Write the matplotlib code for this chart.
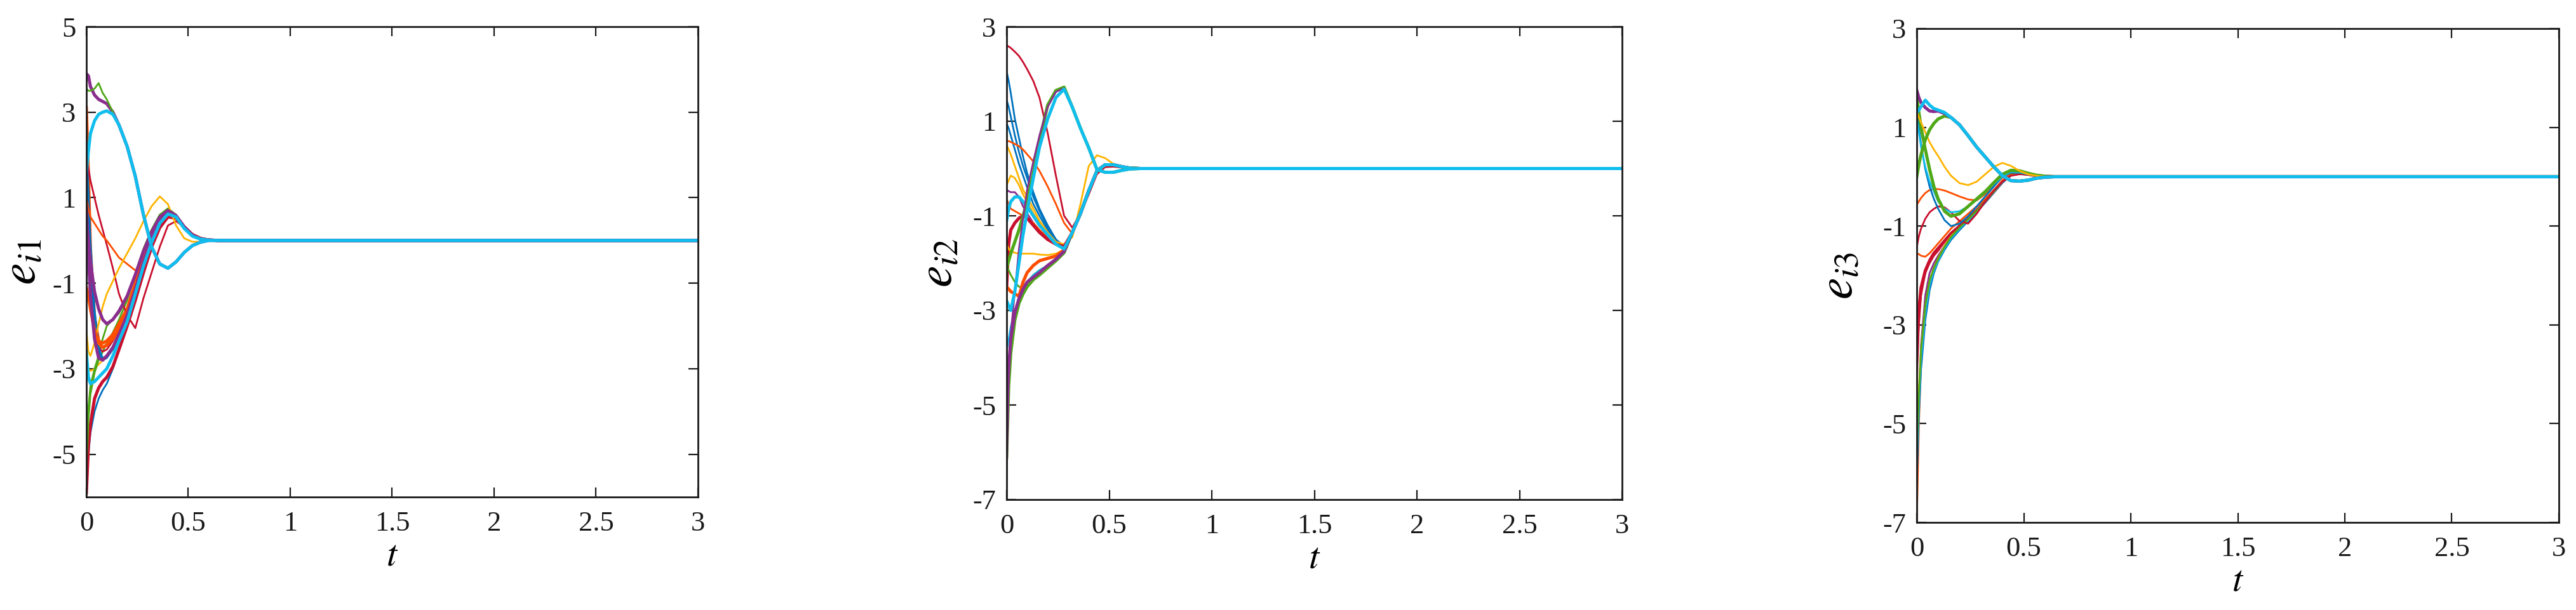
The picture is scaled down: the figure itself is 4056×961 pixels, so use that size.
import matplotlib
matplotlib.use("Agg")
import matplotlib.pyplot as plt

plt.rcParams['font.family'] = ['Liberation Serif', 'DejaVu Serif']
plt.rcParams['mathtext.fontset'] = 'stix'
plt.rcParams['axes.unicode_minus'] = False

# ---------------- data ----------------
t_grid = [0, 0.01, 0.02, 0.04, 0.06, 0.08, 0.1, 0.13, 0.16, 0.2, 0.24, 0.28,
          0.32, 0.36, 0.4, 0.44, 0.48, 0.52, 0.56, 0.6, 0.65, 3.0]

x_ticks = [0, 0.5, 1, 1.5, 2, 2.5, 3]
x_tick_labels = ['0', '0.5', '1', '1.5', '2', '2.5', '3']
y_ticks_1 = [5, 3, 1, -1, -3, -5]
y_ticks_23 = [3, 1, -1, -3, -5, -7]
y_labels = [r'$e_{i1}$', r'$e_{i2}$', r'$e_{i3}$']

# panel 1 : e_i1
e1_yellow_b = [-3.0, -3.0, -3.05, -3.0, -2.9, -2.8, -2.7, -2.55, -2.3, -1.9, -1.3, -0.65, -0.1, 0.35, 0.6, 0.55, 0.3, 0.12, 0.04, 0.01, 0.0, 0.0]
e1_blue_c = [-5.5, -5.0, -4.5, -4.0, -3.7, -3.5, -3.35, -3.0, -2.55, -2.0, -1.35, -0.7, -0.1, 0.35, 0.58, 0.55, 0.3, 0.12, 0.04, 0.01, 0.0, 0.0]
e1_crimson_c = [-5.9, -4.8, -4.3, -3.7, -3.45, -3.3, -3.2, -2.95, -2.55, -2.0, -1.4, -0.75, -0.15, 0.3, 0.55, 0.52, 0.3, 0.12, 0.04, 0.01, 0.0, 0.0]
e1_green_b = [-5.3, -4.2, -3.6, -3.1, -2.8, -2.6, -2.4, -2.15, -1.85, -1.4, -0.8, -0.2, 0.25, 0.6, 0.75, 0.6, 0.32, 0.13, 0.04, 0.01, 0.0, 0.0]
e1_green_c = [-4.6, -3.9, -3.4, -3.0, -2.7, -2.3, -2.0, -1.85, -1.7, -1.35, -0.78, -0.2, 0.25, 0.6, 0.74, 0.6, 0.32, 0.13, 0.04, 0.01, 0.0, 0.0]
e1_orange_a = [3.1, 1.5, -0.2, -1.8, -2.35, -2.4, -2.35, -2.2, -1.95, -1.6, -1.0, -0.4, 0.1, 0.45, 0.65, 0.55, 0.32, 0.14, 0.05, 0.01, 0.0, 0.0]
e1_crimson_a = [2.5, 1.0, -0.5, -2.0, -2.5, -2.6, -2.55, -2.35, -2.1, -1.7, -1.1, -0.5, 0.0, 0.4, 0.6, 0.53, 0.3, 0.13, 0.04, 0.01, 0.0, 0.0]
e1_blue_a = [2.1, 1.2, 0.0, -1.6, -2.5, -2.75, -2.7, -2.5, -2.25, -1.8, -1.2, -0.55, 0.0, 0.4, 0.62, 0.55, 0.3, 0.12, 0.04, 0.01, 0.0, 0.0]
e1_blue_b = [1.5, 0.6, -0.4, -1.9, -2.6, -2.8, -2.75, -2.55, -2.3, -1.85, -1.25, -0.6, -0.05, 0.38, 0.6, 0.55, 0.3, 0.12, 0.04, 0.01, 0.0, 0.0]
e1_crimson_b = [1.9, 1.7, 1.4, 1.0, 0.6, 0.25, -0.1, -0.65, -1.25, -1.75, -2.05, -1.35, -0.75, -0.15, 0.35, 0.45, 0.32, 0.15, 0.06, 0.02, 0.0, 0.0]
e1_orange_b = [1.0, 0.75, 0.55, 0.4, 0.25, 0.1, 0.0, -0.2, -0.4, -0.55, -0.7, -0.5, -0.05, 0.4, 0.62, 0.52, 0.3, 0.13, 0.04, 0.01, 0.0, 0.0]
e1_yellow_a = [-2.1, -2.6, -2.7, -2.4, -1.95, -1.55, -1.25, -0.95, -0.65, -0.3, 0.05, 0.45, 0.8, 1.03, 0.85, 0.35, 0.05, -0.03, -0.03, -0.01, 0.0, 0.0]
e1_orange_c = [-1.1, -1.3, -1.6, -2.1, -2.4, -2.5, -2.45, -2.3, -2.05, -1.65, -1.05, -0.45, 0.05, 0.42, 0.62, 0.55, 0.3, 0.13, 0.04, 0.01, 0.0, 0.0]
e1_purple_b = [0.8, -0.4, -1.3, -2.3, -2.75, -2.8, -2.7, -2.5, -2.2, -1.75, -1.15, -0.5, 0.05, 0.45, 0.65, 0.55, 0.3, 0.13, 0.04, 0.01, 0.0, 0.0]
e1_purple_c = [0.5, 0.0, -0.5, -1.2, -1.6, -1.85, -1.95, -1.85, -1.65, -1.3, -0.8, -0.25, 0.2, 0.55, 0.7, 0.58, 0.32, 0.13, 0.04, 0.01, 0.0, 0.0]
e1_cyan_b = [-2.6, -3.2, -3.35, -3.3, -3.2, -3.1, -3.0, -2.7, -2.35, -1.9, -1.25, -0.6, -0.05, 0.4, 0.62, 0.55, 0.28, 0.1, 0.03, 0.01, 0.0, 0.0]
e1_purple_up = [3.9, 3.85, 3.6, 3.4, 3.3, 3.25, 3.2, 3.0, 2.7, 2.2, 1.5, 0.6, -0.15, -0.55, -0.65, -0.5, -0.28, -0.12, -0.04, 0.0, 0.0, 0.0]
e1_green_up = [3.55, 3.5, 3.5, 3.55, 3.68, 3.45, 3.3, 3.0, 2.7, 2.2, 1.5, 0.6, -0.15, -0.55, -0.65, -0.5, -0.28, -0.12, -0.04, 0.0, 0.0, 0.0]
e1_cyan_up = [1.6, 2.1, 2.5, 2.8, 2.95, 3.0, 3.03, 2.95, 2.7, 2.2, 1.5, 0.6, -0.15, -0.55, -0.65, -0.5, -0.28, -0.12, -0.04, 0.0, 0.0, 0.0]

# panel 2 : e_i2
e2_crimson_a = [2.6, 2.58, 2.55, 2.47, 2.38, 2.25, 2.1, 1.85, 1.5, 0.75, -0.15, -1.0, -1.25, -0.95, -0.55, -0.12, 0.03, 0.04, 0.02, 0.0, 0.0, 0.0]
e2_blue_a = [2.05, 1.85, 1.6, 1.05, 0.65, 0.25, -0.1, -0.5, -0.85, -1.2, -1.5, -1.65, -1.35, -0.95, -0.47, -0.05, 0.08, 0.08, 0.04, 0.01, 0.0, 0.0]
e2_blue_b = [1.45, 1.3, 1.1, 0.7, 0.35, 0.05, -0.2, -0.6, -0.9, -1.25, -1.5, -1.65, -1.35, -0.95, -0.47, -0.05, 0.08, 0.08, 0.04, 0.01, 0.0, 0.0]
e2_blue_c = [0.95, 0.85, 0.7, 0.4, 0.1, -0.15, -0.4, -0.75, -1.0, -1.3, -1.55, -1.68, -1.35, -0.95, -0.47, -0.05, 0.08, 0.08, 0.04, 0.01, 0.0, 0.0]
e2_orange_a = [0.58, 0.58, 0.56, 0.52, 0.47, 0.4, 0.3, 0.15, -0.05, -0.38, -0.75, -1.15, -1.38, -0.95, -0.47, -0.05, 0.08, 0.08, 0.04, 0.01, 0.0, 0.0]
e2_yellow_a = [0.5, 0.4, 0.3, 0.05, -0.2, -0.45, -0.6, -0.85, -1.1, -1.35, -1.55, -1.6, -1.45, -0.75, 0.05, 0.28, 0.22, 0.1, 0.03, 0.01, 0.0, 0.0]
e2_yellow_b = [-0.35, -0.25, -0.15, -0.2, -0.35, -0.55, -0.7, -0.95, -1.15, -1.4, -1.6, -1.65, -1.35, -0.95, -0.47, -0.05, 0.08, 0.08, 0.04, 0.01, 0.0, 0.0]
e2_purple_a = [-0.45, -0.48, -0.5, -0.5, -0.6, -0.8, -0.95, -1.15, -1.3, -1.45, -1.6, -1.68, -1.35, -0.95, -0.47, -0.05, 0.08, 0.08, 0.04, 0.01, 0.0, 0.0]
e2_cyan_a = [-1.1, -0.85, -0.7, -0.6, -0.6, -0.7, -0.8, -1.0, -1.2, -1.4, -1.6, -1.7, -1.35, -0.95, -0.47, -0.05, 0.08, 0.08, 0.04, 0.01, 0.0, 0.0]
e2_orange_b = [-0.65, -0.75, -0.85, -0.9, -0.95, -1.0, -1.05, -1.15, -1.3, -1.45, -1.6, -1.68, -1.35, -0.95, -0.47, -0.05, 0.08, 0.08, 0.04, 0.01, 0.0, 0.0]
e2_crimson_b = [-2.5, -1.6, -1.3, -1.15, -1.05, -1.0, -1.05, -1.2, -1.35, -1.5, -1.6, -1.65, -1.35, -0.95, -0.47, -0.05, 0.08, 0.08, 0.04, 0.01, 0.0, 0.0]
e2_yellow_c = [-1.6, -1.7, -1.75, -1.78, -1.8, -1.8, -1.8, -1.8, -1.82, -1.83, -1.8, -1.72, -1.35, -0.95, -0.47, -0.05, 0.08, 0.08, 0.04, 0.01, 0.0, 0.0]
e2_green_a = [-2.05, -2.15, -2.25, -2.4, -2.5, -2.5, -2.4, -2.25, -2.15, -2.05, -1.9, -1.72, -1.35, -0.95, -0.47, -0.05, 0.08, 0.08, 0.04, 0.01, 0.0, 0.0]
e2_orange_c = [-2.5, -2.55, -2.6, -2.65, -2.7, -2.4, -2.2, -2.05, -1.95, -1.9, -1.85, -1.72, -1.35, -0.95, -0.47, -0.05, 0.08, 0.08, 0.04, 0.01, 0.0, 0.0]
e2_cyan_b = [-3.85, -3.6, -3.35, -3.0, -2.75, -2.55, -2.4, -2.25, -2.15, -2.05, -1.9, -1.75, -1.35, -0.95, -0.47, -0.05, 0.08, 0.08, 0.04, 0.01, 0.0, 0.0]
e2_green_b = [-6.1, -4.6, -3.9, -3.2, -2.85, -2.65, -2.5, -2.35, -2.25, -2.1, -1.95, -1.78, -1.35, -0.95, -0.47, -0.05, 0.08, 0.08, 0.04, 0.01, 0.0, 0.0]
e2_purple_b = [-5.0, -4.2, -3.6, -3.05, -2.75, -2.55, -2.4, -2.3, -2.2, -2.05, -1.92, -1.75, -1.35, -0.95, -0.47, -0.05, 0.08, 0.08, 0.04, 0.01, 0.0, 0.0]
e2_green_hump = [-2.1, -1.95, -1.8, -1.55, -1.3, -1.0, -0.7, -0.1, 0.6, 1.34, 1.65, 1.72, 1.3, 0.85, 0.44, -0.02, -0.08, -0.08, -0.04, -0.01, 0.0, 0.0]
e2_purple_hump = [-6.6, -4.5, -3.5, -2.6, -1.7, -1.05, -0.45, 0.15, 0.7, 1.3, 1.62, 1.7, 1.3, 0.85, 0.44, -0.02, -0.08, -0.08, -0.04, -0.01, 0.0, 0.0]
e2_cyan_hump = [-2.8, -2.9, -3.0, -2.6, -2.0, -1.4, -0.9, -0.2, 0.45, 1.05, 1.5, 1.68, 1.3, 0.85, 0.44, -0.02, -0.08, -0.08, -0.04, -0.01, 0.0, 0.0]

# panel 3 : e_i3
e3_crimson_d = [-3.5, -2.7, -2.25, -1.9, -1.7, -1.55, -1.45, -1.3, -1.15, -1.0, -0.85, -0.68, -0.5, -0.3, -0.1, 0.04, 0.07, 0.05, 0.02, 0.01, 0.0, 0.0]
e3_purple_d = [-6.4, -4.5, -3.4, -2.4, -1.95, -1.75, -1.6, -1.4, -1.2, -1.05, -0.9, -0.72, -0.52, -0.32, -0.12, 0.03, 0.07, 0.05, 0.02, 0.01, 0.0, 0.0]
e3_orange_d = [-7.0, -5.0, -3.8, -2.7, -2.15, -1.85, -1.65, -1.42, -1.22, -1.02, -0.85, -0.68, -0.5, -0.3, -0.1, 0.04, 0.07, 0.05, 0.02, 0.01, 0.0, 0.0]
e3_blue_d = [-6.2, -4.8, -3.9, -2.9, -2.3, -1.95, -1.72, -1.48, -1.28, -1.08, -0.9, -0.72, -0.52, -0.32, -0.12, 0.03, 0.07, 0.05, 0.02, 0.01, 0.0, 0.0]
e3_cyan_d = [-5.8, -4.6, -3.7, -2.75, -2.2, -1.9, -1.7, -1.45, -1.25, -1.05, -0.88, -0.7, -0.5, -0.3, -0.1, 0.04, 0.07, 0.05, 0.02, 0.01, 0.0, 0.0]
e3_yellow_d = [-5.2, -4.3, -3.5, -2.6, -2.1, -1.85, -1.65, -1.4, -1.2, -1.02, -0.86, -0.68, -0.5, -0.3, -0.1, 0.04, 0.07, 0.05, 0.02, 0.01, 0.0, 0.0]
e3_crimson_e = [-4.2, -3.0, -2.4, -1.95, -1.75, -1.6, -1.5, -1.32, -1.15, -1.0, -0.85, -0.68, -0.5, -0.3, -0.1, 0.04, 0.07, 0.05, 0.02, 0.01, 0.0, 0.0]
e3_green_d = [-5.6, -4.4, -3.5, -2.6, -2.1, -1.85, -1.66, -1.42, -1.22, -1.03, -0.86, -0.69, -0.5, -0.3, -0.1, 0.04, 0.07, 0.05, 0.02, 0.01, 0.0, 0.0]
e3_orange_l = [-1.55, -1.57, -1.6, -1.62, -1.55, -1.45, -1.35, -1.2, -1.05, -0.9, -0.75, -0.6, -0.45, -0.27, -0.08, 0.06, 0.09, 0.06, 0.03, 0.01, 0.0, 0.0]
e3_crimson_m = [-1.43, -1.2, -1.05, -0.85, -0.72, -0.65, -0.6, -0.62, -0.72, -0.9, -0.95, -0.75, -0.5, -0.28, -0.1, 0.02, 0.05, 0.04, 0.02, 0.0, 0.0, 0.0]
e3_orange_m = [-0.57, -0.5, -0.43, -0.33, -0.27, -0.25, -0.25, -0.28, -0.33, -0.4, -0.46, -0.48, -0.35, -0.18, -0.02, 0.08, 0.08, 0.05, 0.02, 0.01, 0.0, 0.0]
e3_blue_m = [1.5, 1.0, 0.65, 0.15, -0.2, -0.45, -0.65, -0.88, -1.0, -0.95, -0.8, -0.6, -0.4, -0.2, 0.0, 0.08, 0.08, 0.05, 0.02, 0.01, 0.0, 0.0]
e3_cyan_m = [1.2, 0.9, 0.6, 0.2, -0.1, -0.3, -0.5, -0.65, -0.72, -0.7, -0.6, -0.47, -0.32, -0.15, 0.0, 0.1, 0.09, 0.05, 0.02, 0.01, 0.0, 0.0]
e3_green_m = [1.6, 1.3, 1.0, 0.55, 0.15, -0.2, -0.45, -0.7, -0.8, -0.75, -0.6, -0.45, -0.3, -0.12, 0.05, 0.13, 0.12, 0.07, 0.03, 0.01, 0.0, 0.0]
e3_yellow_m = [1.35, 1.2, 1.1, 0.9, 0.7, 0.55, 0.42, 0.2, 0.02, -0.13, -0.17, -0.1, 0.05, 0.2, 0.28, 0.22, 0.12, 0.05, 0.02, 0.0, 0.0, 0.0]
e3_green_up = [0.0, 0.25, 0.45, 0.75, 0.95, 1.08, 1.17, 1.23, 1.2, 1.05, 0.83, 0.6, 0.4, 0.2, 0.02, -0.08, -0.09, -0.07, -0.03, -0.01, 0.0, 0.0]
e3_purple_up = [1.75, 1.6, 1.5, 1.4, 1.33, 1.32, 1.33, 1.28, 1.2, 1.05, 0.83, 0.6, 0.4, 0.2, 0.02, -0.08, -0.09, -0.07, -0.03, -0.01, 0.0, 0.0]
e3_cyan_up = [1.3, 1.35, 1.42, 1.55, 1.45, 1.38, 1.35, 1.3, 1.2, 1.05, 0.83, 0.6, 0.4, 0.2, 0.02, -0.08, -0.09, -0.07, -0.03, -0.01, 0.0, 0.0]

# ---------------- style ----------------
C = {'blue': '#0072BD', 'orange': '#FF4E00', 'yellow': '#FFB400',
     'purple': '#8A2D8E', 'green': '#4FA818', 'cyan': '#10BEEE',
     'crimson': '#C8102E'}
THIN, THICK = 2.0, 3.6

panel1 = [(e1_yellow_b, 'yellow', THIN), (e1_blue_c, 'blue', THIN),
          (e1_crimson_c, 'crimson', THICK), (e1_green_b, 'green', THIN),
          (e1_green_c, 'green', THIN), (e1_orange_a, 'orange', THICK),
          (e1_crimson_a, 'crimson', THIN), (e1_blue_a, 'blue', THIN),
          (e1_blue_b, 'blue', THIN), (e1_crimson_b, 'crimson', THIN),
          (e1_orange_b, 'orange', THIN), (e1_yellow_a, 'yellow', THIN),
          (e1_orange_c, 'orange', THICK), (e1_purple_b, 'purple', THICK),
          (e1_purple_c, 'purple', THICK), (e1_cyan_b, 'cyan', THICK),
          (e1_purple_up, 'purple', THICK), (e1_green_up, 'green', THIN),
          (e1_cyan_up, 'cyan', THICK)]

panel2 = [(e2_crimson_a, 'crimson', THIN), (e2_blue_a, 'blue', THIN),
          (e2_blue_b, 'blue', THIN), (e2_blue_c, 'blue', THIN),
          (e2_orange_a, 'orange', THIN), (e2_yellow_a, 'yellow', THIN),
          (e2_yellow_b, 'yellow', THIN), (e2_purple_a, 'purple', THIN),
          (e2_orange_b, 'orange', THIN), (e2_crimson_b, 'crimson', THICK),
          (e2_yellow_c, 'yellow', THIN), (e2_green_a, 'green', THIN),
          (e2_orange_c, 'orange', THICK), (e2_cyan_b, 'cyan', THIN),
          (e2_green_b, 'green', THICK), (e2_purple_b, 'purple', THICK),
          (e2_cyan_a, 'cyan', THICK), (e2_green_hump, 'green', THICK),
          (e2_purple_hump, 'purple', THIN), (e2_cyan_hump, 'cyan', THICK)]

panel3 = [(e3_crimson_d, 'crimson', THICK), (e3_purple_d, 'purple', THIN),
          (e3_orange_d, 'orange', THIN), (e3_blue_d, 'blue', THIN),
          (e3_cyan_d, 'cyan', THIN), (e3_yellow_d, 'yellow', THIN),
          (e3_crimson_e, 'crimson', THIN), (e3_green_d, 'green', THIN),
          (e3_orange_l, 'orange', THIN), (e3_crimson_m, 'crimson', THIN),
          (e3_orange_m, 'orange', THIN), (e3_blue_m, 'blue', THIN),
          (e3_cyan_m, 'cyan', THIN), (e3_green_m, 'green', THICK),
          (e3_yellow_m, 'yellow', THIN), (e3_green_up, 'green', THICK),
          (e3_purple_up, 'purple', THICK), (e3_cyan_up, 'cyan', THICK)]

W, H = 4056, 961
fig = plt.figure(figsize=(W / 100, H / 100), dpi=100)

boxes = [(136, 42, 1099, 783), (1585, 42, 2554, 787), (3018, 45, 4029, 823)]
label_x = [-0.066, -0.072, -0.084]
panels = [panel1, panel2, panel3]
ylims = [(-6, 5), (-7, 3), (-7, 3)]
yticks = [y_ticks_1, y_ticks_23, y_ticks_23]

for k in range(3):
    x0, y0, x1, y1 = boxes[k]
    ax = fig.add_axes([x0 / W, 1 - y1 / H, (x1 - x0) / W, (y1 - y0) / H])
    for vals, col, lw in panels[k]:
        ax.plot(t_grid, vals, color=C[col], lw=lw, solid_joinstyle='round')
    ax.set_xlim(0, 3)
    ax.set_ylim(*ylims[k])
    ax.set_xticks(x_ticks)
    ax.set_xticklabels(x_tick_labels)
    ax.set_yticks(yticks[k])
    ax.set_yticklabels([str(v) for v in yticks[k]])
    ax.tick_params(direction='in', length=11, width=1.6, top=True, right=True,
                   labelsize=32, colors='#1a1a1a')
    ax.tick_params(axis='y', pad=12)
    ax.tick_params(axis='x', pad=16)
    for s in ax.spines.values():
        s.set_linewidth(2.0)
        s.set_color('#1a1a1a')
    ax.set_xlabel(r'$t$', fontsize=42, labelpad=4)
    ax.set_ylabel(y_labels[k], fontsize=56)
    ax.yaxis.set_label_coords(label_x[k], 0.5)

fig.savefig('out.png', dpi=100)
